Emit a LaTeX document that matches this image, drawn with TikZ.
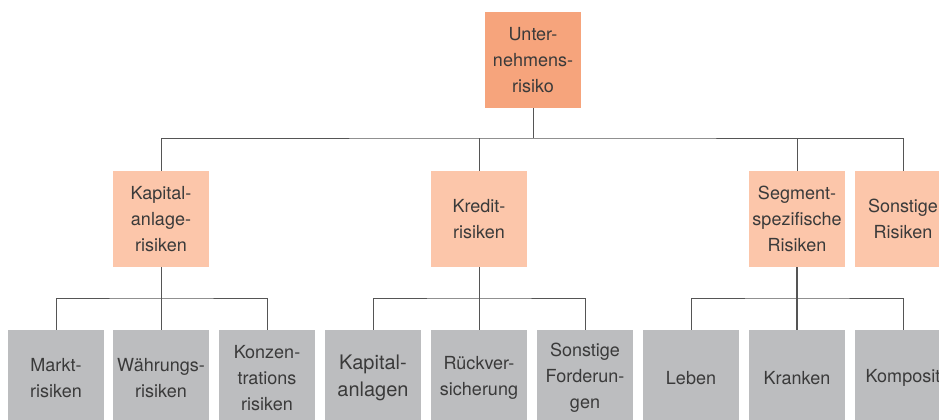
\documentclass[tikz,border=0pt]{standalone}
\usepackage{fontspec}
\setmainfont{TeX Gyre Heros}
\definecolor{topc}{HTML}{F6A47C}
\definecolor{midc}{HTML}{FCC6AA}
\definecolor{lowc}{HTML}{BCBDBF}
\definecolor{txtc}{HTML}{3A3A3A}
\definecolor{linec}{HTML}{555555}
\begin{document}
\begin{tikzpicture}[x=1pt,y=-1pt,
  box/.style={minimum width=96pt,minimum height=96pt,inner sep=0pt,align=center,
    text=txtc,font=\fontsize{18}{26}\selectfont},
  topbox/.style={box,fill=topc},
  midbox/.style={box,fill=midc},
  lowbox/.style={box,fill=lowc},
  conn/.style={draw=linec,line width=1pt}]
\useasboundingbox (0,0) rectangle (939,420);
\clip (0,0) rectangle (939,420);
\fill[white] (0,0) rectangle (939,420);
% top
\node[topbox] (top) at (533,60) {Unter-\\nehmens-\\risiko};
% level 2
\node[midbox] (k1) at (161,219) {Kapital-\\anlage-\\risiken};
\node[midbox] (k2) at (479,219) {Kredit-\\risiken};
\node[midbox] (k3) at (797,219) {Segment-\\spezifische\\Risiken};
\node[midbox] (k4) at (903,219) {Sonstige\\Risiken};
% level 3
\node[lowbox] (a1) at (56,378) {Markt-\\risiken};
\node[lowbox] (a2) at (161,378) {Währungs-\\risiken};
\node[lowbox] (a3) at (267,378) {Konzen-\\trations\\risiken};
\node[lowbox,font=\fontsize{20}{27}\selectfont] (b1) at (373,378) {Kapital-\\anlagen};
\node[lowbox] (b2) at (479,378) {Rückver-\\sicherung};
\node[lowbox] (b3) at (585,378) {Sonstige\\Forderun-\\gen};
\node[lowbox] (c1) at (691,378) {Leben};
\node[lowbox] (c2) at (797,378) {Kranken};
\node[lowbox] (c3) at (903,378) {Komposit};
% buses
\coordinate (bus0) at (533,138);
\coordinate (busA) at (161,298);
\coordinate (busB) at (479,298);
\coordinate (busC) at (797,298);
% connectors level 1-2
\draw[conn] (top.south) -- (bus0);
\draw[conn] (k1.north) |- (bus0) -| (k4.north);
\draw[conn] (k2.north) -- (k2.north |- bus0);
\draw[conn] (k3.north) -- (k3.north |- bus0);
% connectors level 2-3
\draw[conn] (k1.south) -- (a2.north);
\draw[conn] (a1.north) |- (busA) -| (a3.north);
\draw[conn] (k2.south) -- (b2.north);
\draw[conn] (b1.north) |- (busB) -| (b3.north);
\draw[conn,line width=1.4pt] (k3.south) -- (c2.north);
\draw[conn] (c1.north) |- (busC) -| (c3.north);
\end{tikzpicture}
\end{document}
